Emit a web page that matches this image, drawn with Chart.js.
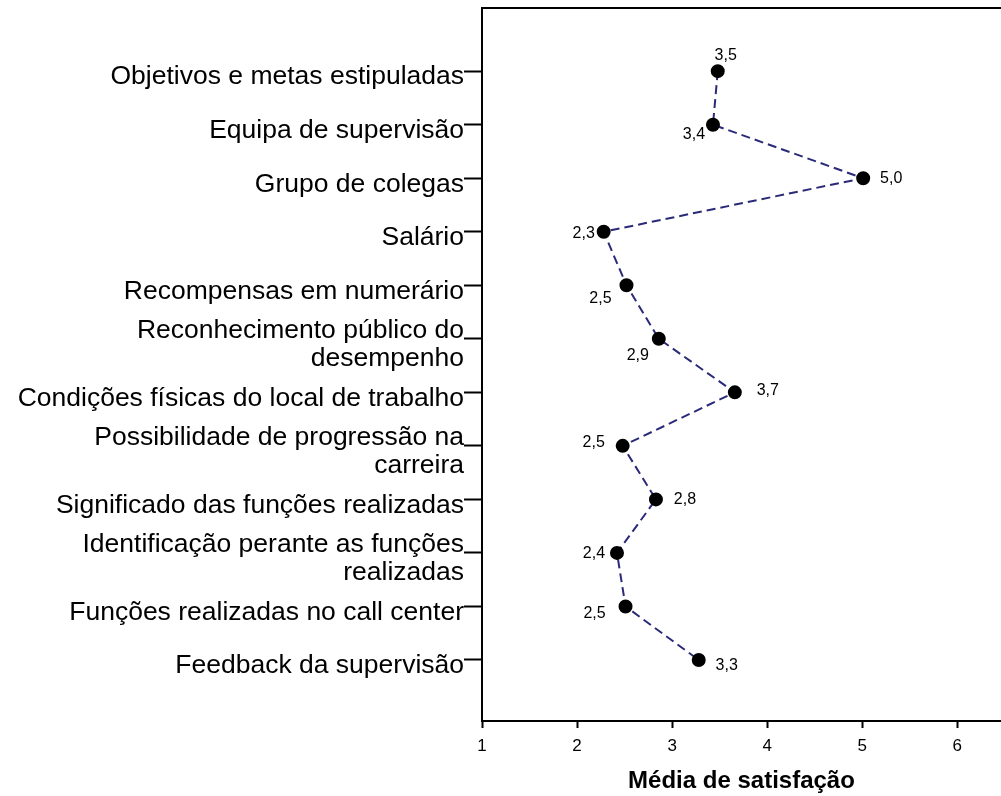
<!DOCTYPE html>
<html>
<head>
<meta charset="utf-8">
<script src="https://cdn.jsdelivr.net/npm/chart.js@4/dist/chart.umd.min.js"></script>
<style>
  html, body { margin: 0; padding: 0; background: #fff; overflow: hidden; width: 1001px; height: 796px; }
</style>
</head>
<body>
<canvas id="chart1" width="1009" height="796"></canvas>
<script>
    // data
    const categories = [
    'Objetivos e metas estipuladas',
    'Equipa de supervisão',
    'Grupo de colegas',
    'Salário',
    'Recompensas em numerário',
    ['Reconhecimento público do', 'desempenho'],
    'Condições físicas do local de trabalho',
    ['Possibilidade de progressão na', 'carreira'],
    'Significado das funções realizadas',
    ['Identificação perante as funções', 'realizadas'],
    'Funções realizadas no call center',
    'Feedback da supervisão'
    ];
    const satisfaction = [3.48, 3.43, 5.01, 2.28, 2.52, 2.86, 3.66, 2.48, 2.83, 2.42, 2.51, 3.28];
    const xTicks = [1, 2, 3, 4, 5, 6];

    // where each value label sits relative to its point
    const labelOffsets = [
    [8, -16], [-19, 10], [28, 0], [-20, 2], [-26, 13], [-21, 17],
    [33, -2], [-29, -3], [29, 0], [-23, 1], [-31, 7], [28, 6]
    ];

    const FONT = '"Liberation Sans", Arial, sans-serif';

    const valueLabels = {
    id: 'valueLabels',
    afterDatasetsDraw(chart) {
    const c = chart.ctx;
    const meta = chart.getDatasetMeta(0);
    c.save();
    c.font = '16px ' + FONT;
    c.fillStyle = '#000';
    c.textAlign = 'center';
    c.textBaseline = 'middle';
    meta.data.forEach((pt, i) => {
    const txt = satisfaction[i].toFixed(1).replace('.', ',');
    c.fillText(txt, pt.x + labelOffsets[i][0], pt.y + labelOffsets[i][1]);
});
    // top frame line
    const a = chart.chartArea;
    c.strokeStyle = '#000';
    c.lineWidth = 2;
    c.beginPath();
    c.moveTo(a.left, a.top);
    c.lineTo(a.right, a.top);
    c.stroke();
    c.restore();
}
};

    const ctx1 = document.getElementById('chart1').getContext('2d');
    const chart1 = new Chart(ctx1, {
    type: 'line',
    data: {
    datasets: [{
    label: 'Média de satisfação',
    data: satisfaction.map((v, i) => ({ x: v, y: i })),
    borderColor: '#2a2a78',
    borderWidth: 2,
    borderDash: [9, 5],
    pointBackgroundColor: '#000',
    pointBorderColor: '#000',
    pointRadius: 6,
    tension: 0
}]
},
    options: {
    responsive: false,
    animation: false,
    layout: { padding: { top: 8, right: 0, left: 0, bottom: 0 } },
    plugins: {
    legend: { display: false },
    tooltip: { enabled: false }
},
    scales: {
    x: {
    type: 'linear',
    min: 1,
    max: 6.46,
    afterBuildTicks: (s) => { s.ticks = xTicks.map(v => ({ value: v })); },
    afterFit: (s) => { s.height = 75; },
    ticks: {
    color: '#000',
    font: { size: 17, family: FONT },
    padding: 8,
    maxRotation: 0
},
    grid: { drawOnChartArea: false, tickLength: 7, tickColor: '#000', tickWidth: 2 },
    border: { color: '#000', width: 2 },
    title: {
    display: true,
    text: 'Média de satisfação',
    color: '#000',
    font: { size: 24, weight: 'bold', family: FONT },
    padding: { top: 16, bottom: 0 }
}
},
    y: {
    type: 'linear',
    reverse: true,
    min: -1.18,
    max: 12.14,
    afterBuildTicks: (s) => { s.ticks = categories.map((c, i) => ({ value: i })); },
    afterFit: (s) => { s.width = 482; s.paddingTop = 0; s.paddingBottom = 0; },
    ticks: {
    color: '#000',
    font: { size: 26.5, family: FONT, lineHeight: 1.05 },
    padding: 0,
    labelOffset: 6,
    callback: (v) => categories[v]
},
    grid: { drawOnChartArea: false, tickLength: 18, tickColor: '#000', tickWidth: 2 },
    border: { color: '#000', width: 2 }
}
}
},
    plugins: [valueLabels]
});
</script>
</body>
</html>
